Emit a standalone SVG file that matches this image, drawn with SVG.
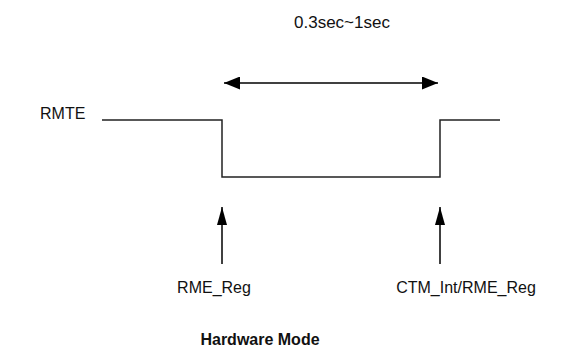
<svg xmlns="http://www.w3.org/2000/svg" width="572" height="350" viewBox="0 0 572 350">
<style>
.t{font-family:"Liberation Sans",Arial,sans-serif;font-size:16px;fill:#111}
.b{font-weight:bold}
.w{fill:none;stroke:#222;stroke-width:1.5}
</style>
<defs>
<marker id="ah" viewBox="0 0 16 13" refX="16" refY="6.5" markerWidth="16" markerHeight="13" markerUnits="userSpaceOnUse" orient="auto-start-reverse">
<path d="M0,0 L16,6.5 L0,13 Z" fill="#000"/>
</marker>
<marker id="au" viewBox="0 0 18 10" refX="18" refY="5" markerWidth="18" markerHeight="10" markerUnits="userSpaceOnUse" orient="auto">
<path d="M0,0 L18,5 L0,10 Z" fill="#000"/>
</marker>
</defs>
<rect width="572" height="350" fill="#fff"/>
<g id="rmte">
<text class="t" x="40" y="119">RMTE</text>
<path class="w" d="M102,120 H222 V177 H440 V120 H500"/>
</g>
<g id="connectors">
<line x1="224" y1="83" x2="438" y2="83" stroke="#000" stroke-width="1.5" marker-start="url(#ah)" marker-end="url(#ah)"/>
<line x1="222" y1="264" x2="222" y2="207" stroke="#000" stroke-width="1.5" marker-end="url(#au)"/>
<line x1="440" y1="264" x2="440" y2="207" stroke="#000" stroke-width="1.5" marker-end="url(#au)"/>
</g>
<g id="duration"><text class="t" x="342" y="28" text-anchor="middle" style="font-size:17px">0.3sec~1sec</text></g>
<g id="rme-reg"><text class="t" x="214" y="293" text-anchor="middle">RME_Reg</text></g>
<g id="ctm-int"><text class="t" x="466" y="293" text-anchor="middle">CTM_Int/RME_Reg</text></g>
<g id="title"><text class="t b" x="260" y="345" text-anchor="middle">Hardware Mode</text></g>
</svg>
